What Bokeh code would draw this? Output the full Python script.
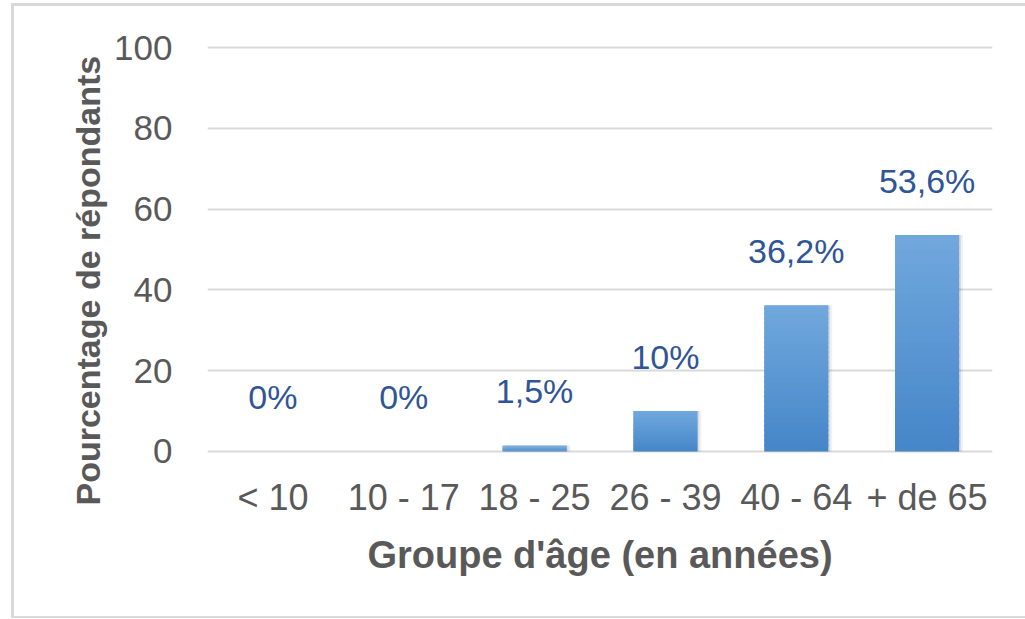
from bokeh.plotting import figure
from bokeh.models import FactorRange, Range1d, FixedTicker, ColumnDataSource, Title
from bokeh.transform import dodge
from bokeh.embed import file_html
from bokeh.resources import INLINE
from bokeh.core.properties import value

# ---- data ----
categories = ["< 10", "10 - 17", "18 - 25", "26 - 39", "40 - 64", "+ de 65"]
values = [0, 0, 1.5, 10, 36.2, 53.6]
labels = ["0%", "0%", "1,5%", "10%", "36,2%", "53,6%"]
y_ticks = [0, 20, 40, 60, 80, 100]

FONT = "Liberation Sans"
GRAY = "#595959"
BORDER = "#d9d9d9"

W, H = 1025, 619
p = figure(width=W, height=H,
           x_range=FactorRange(factors=categories, range_padding=0),
           y_range=Range1d(-1, 101),
           output_backend="svg", toolbar_location=None,
           min_border_left=207, min_border_right=33,
           min_border_top=43, min_border_bottom=164)
p.outline_line_color = None
p.border_fill_color = None
p.background_fill_color = "white"
g = "linear-gradient(%s,%s)" % (BORDER, BORDER)
p.styles = {"background": (
    f"{g} 11px 3px/3px 615px no-repeat, "
    f"{g} 11px 3px/1014px 3px no-repeat, "
    f"{g} 11px 616px/1014px 2px no-repeat, white")}

# grid
p.xgrid.visible = False
p.ygrid.ticker = FixedTicker(ticks=y_ticks)
p.ygrid.grid_line_color = BORDER
p.ygrid.grid_line_width = 2

# shadow layers
src = ColumnDataSource(dict(cat=categories, val=values, lab=labels))
for off, a in [(0.03, 0.05), (0.015, 0.09)]:
    p.vbar(x=dodge("cat", off, range=p.x_range), top="val", bottom=0, width=0.49,
           source=src, fill_color="black", fill_alpha=a, line_color=None)

# gradient bars built from slices of each value
def lerp(c1, c2, t):
    a = [int(c1[i:i + 2], 16) for i in (1, 3, 5)]
    b = [int(c2[i:i + 2], 16) for i in (1, 3, 5)]
    return "#%02x%02x%02x" % tuple(round(a[k] + (b[k] - a[k]) * t) for k in range(3))

bottom_col, top_col = "#4586c8", "#71a8dd"
n = 30
xs, bots, tops, cols = [], [], [], []
for c, v in zip(categories, values):
    if v <= 0:
        continue
    for j in range(n):
        xs.append(c)
        bots.append(v * j / n)
        tops.append(min(v, v * (j + 1.6) / n))
        cols.append(lerp(bottom_col, top_col, (j + 0.5) / n))
p.vbar(x=xs, bottom=bots, top=tops, width=0.49, fill_color=cols, line_color=None)

# data labels
p.text(x="cat", y="val", text="lab", source=src, y_offset=-54,
       text_align="center", text_baseline="middle",
       text_font=value(FONT), text_font_size="34px", text_color="#2F5597")

# axes
for ax in (p.xaxis, p.yaxis):
    ax.axis_line_color = None
    ax.major_tick_line_color = None
    ax.minor_tick_line_color = None
    ax.major_tick_out = 0
    ax.major_tick_in = 0
    ax.major_label_text_font = FONT
    ax.major_label_text_color = GRAY
    ax.axis_label_text_font = FONT
    ax.axis_label_text_font_style = "bold"
    ax.axis_label_text_color = GRAY

p.yaxis.ticker = FixedTicker(ticks=y_ticks)
p.yaxis.major_label_text_font_size = "35px"
p.yaxis.major_label_standoff = 35

p.xaxis.major_label_text_font_size = "36px"
p.xaxis.major_label_standoff = 21
p.xaxis.axis_label = "Groupe d'âge (en années)"
p.xaxis.axis_label_text_font_size = "38px"
p.xaxis.axis_label_standoff = 13

# y axis title, placed a little below the frame centre as in the original
ytitle = Title(text="Pourcentage de répondants", align="left", offset=-50,
               standoff=10, text_font=FONT, text_font_size="34px",
               text_font_style="bold", text_color=GRAY)
p.add_layout(ytitle, "left")

open("out.html", "w").write(file_html(p, INLINE))
